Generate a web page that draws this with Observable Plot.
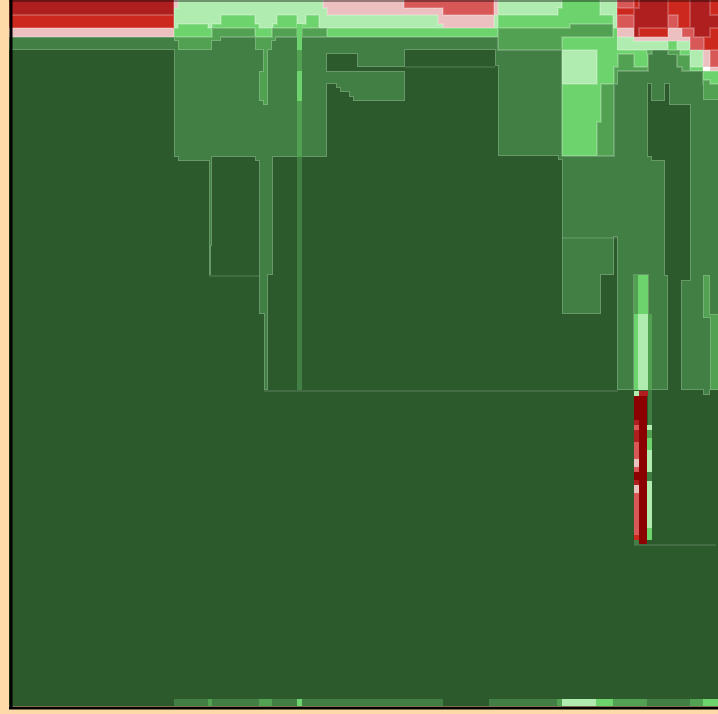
<!DOCTYPE html>
<html><head><meta charset="utf-8">
<style>html,body{margin:0;padding:0;background:#fedaa8}svg{display:block}</style>
<script src="https://cdn.jsdelivr.net/npm/d3@7"></script>
<script src="https://cdn.jsdelivr.net/npm/@observablehq/plot@0.6"></script>
</head><body><script>
// Each cell: [x1, y1, x2, y2] in chart units, grouped by colour class
const base = [[12,1,718,706]];
const g1 = [[12,37,174,50],[174,37,327,157],[327,37,498,50],[327,50,405,54],[357,54,405,67],[327,71,405,84],[336,84,405,88],[340,88,405,92],[349,92,405,97],[353,97,405,101],
[495,50,498,66],[498,50,562,156],[558,156,562,160],[178,157,212,161],[209,161,212,246],[209,246,211,275],[255,157,273,161],[259,161,273,275],[259,275,268,314],[264,314,268,390],
[562,156,652,237],[652,160,665,237],[562,237,601,314],[601,237,614,275],[617,237,665,275],[617,275,634,390],[648,275,668,390],
[614,84,648,156],[651,84,665,101],[669,84,690,105],[617,71,703,84],[648,54,677,71],[677,67,682,71],[652,50,668,55],[690,84,718,280],[681,280,718,390],[703,390,710,395]];
const g2 = [[174,37,178,41],[178,37,212,50],[212,28,255,37],[212,37,221,41],[272,28,297,37],[272,37,276,41],[255,37,272,50],[302,28,327,37],[263,50,268,71],[259,71,268,101],[263,101,268,105],
[498,28,562,50],[562,28,613,37],[570,24,613,28],[601,84,614,122],[597,122,614,156],[614,67,618,84],[618,54,634,67],[614,67,648,71],[647,50,652,54],[668,50,680,55],[677,55,690,67],[682,67,690,71],[703,80,710,84],[703,84,718,100],[703,275,710,318],[710,314,718,390]];
const g3 = [[174,28,178,37],[178,24,208,37],[208,28,212,37],[212,24,221,28],[221,15,255,28],[255,24,259,28],[273,24,277,28],[255,28,272,37],[277,15,297,28],[302,24,319,28],[306,15,319,24],
[327,28,498,37],[562,1,600,15],[558,8,562,15],[498,15,570,28],[570,15,613,24],[562,37,597,50],[597,37,614,84],[613,28,618,67],[562,84,601,122],[562,122,597,156],
[617,50,647,54],[634,54,648,67],[680,50,690,55],[668,41,677,50],[690,67,703,71],[703,71,710,80],[710,71,718,84]];
const g4 = [[178,1,323,15],[323,8,327,15],[174,8,178,28],[178,15,221,24],[208,24,212,28],[255,15,277,24],[259,24,273,28],[297,15,306,24],[319,15,438,24],[319,24,443,28],
[494,15,498,28],[498,1,562,8],[498,8,558,15],[600,1,617,15],[613,15,617,28],[562,50,597,84],[617,37,634,50],[617,41,668,50],[677,41,690,50],[690,50,703,67]];
const p0 = [[12,28,174,37],[174,1,178,8],[323,1,404,8],[327,8,443,15],[438,15,494,24],[443,24,494,28],[494,1,498,15],[617,28,634,37],[634,37,668,41],[668,28,682,37],[668,37,690,41],[703,50,710,67],[710,67,718,71]];
const r1 = [[404,1,494,8],[443,8,494,15],[617,1,634,8],[617,15,634,28],[668,15,678,28],[682,28,694,37],[690,37,704,50],[710,50,718,67]];
const r2 = [[12,15,174,28],[617,8,634,15],[634,1,639,8],[639,28,668,37],[668,1,678,15],[678,1,690,28],[710,1,718,15],[710,28,718,50],[704,37,710,50]];
const r3 = [[12,1,174,15],[639,1,668,28],[634,8,639,37],[690,1,710,28],[694,28,710,37],[710,15,718,28]];
const w0 = [[703,67,710,71]];

// Cells drawn flat, without a light edge: [x1, y1, x2, y2, class]
const flatCells = [
  [297,24,302,50,"g3"],[297,50,302,71,"g2"],[297,71,302,101,"g3"],[297,101,302,157,"g2"],[297,157,302,390,"g1"],
  [174,699,443,706,"g1"],[489,699,557,706,"g1"],[647,699,690,706,"g1"],
  [208,699,212,706,"g2"],[259,699,272,706,"g2"],[557,699,562,706,"g2"],[613,699,647,706,"g2"],[690,699,703,706,"g2"],
  [297,699,302,706,"g3"],[596,699,613,706,"g3"],[703,699,718,706,"g3"],[562,699,596,706,"g4"],
  [634,275,638,314,"g2"],[638,275,648,314,"g3"],[634,314,638,390,"g3"],[638,314,648,390,"g4"],[648,314,652,390,"g2"],
  [634,391,639,396,"g4"],[639,391,648,396,"r3"],
  [648,390,652,425,"g1"],[647,425,652,430,"g4"],[647,430,652,438,"g2"],[647,438,652,450,"g3"],[647,450,652,472,"g4"],[647,472,652,481,"g1"],[647,481,652,528,"g4"],[647,528,652,540,"g3"],
  [634,396,639,420,"r4"],[634,420,639,425,"r3"],[634,425,639,430,"r1"],[634,430,639,442,"r3"],[634,442,639,459,"r1"],[634,459,639,467,"p0"],[634,467,639,472,"r1"],[634,472,639,480,"r4"],[634,480,639,485,"r3"],[634,485,639,493,"p0"],[634,493,639,535,"r1"],[634,535,639,540,"r2"],[634,540,639,545,"g1"],
  [639,396,647,544,"r4"]
];
// Faint cell edges: [y, x1, x2]
const edges = [[275.5,209,259],[390.5,264,618],[66.5,405,495],[544.5,634,716],[237.5,562,617]];

const levelNames = ["base","g1","g2","g3","g4","p0","r1","r2","r3","r4","w0"];
const levelCells = [base,g1,g2,g3,g4,p0,r1,r2,r3,[],w0];
const levelColors = ["#2d5a2d","#417f44","#52a052","#6dd36d","#b0ecb0","#ecc0c0","#d85858","#cc281e","#af1f1f","#8b0000","#ffffff"];
const edgeLight = 0.2;

// Cells on the plot's outer boundary run past it so no edge shows there
const bleed = c => [c[0] === 12 ? 9 : c[0], c[1] === 1 ? -3 : c[1], c[2] === 718 ? 722 : c[2], c[3]];
const table = cells => cells.map(bleed).map(c => ({x1:c[0], y1:c[1], x2:c[2], y2:c[3]}));
const channels = {x1:"x1", x2:"x2", y1:"y1", y2:"y2"};
const marks = [];

// filter that shrinks a layer's union by one pixel, leaving the lighter rim visible
marks.push(() => {
  const s = d3.create("svg:defs");
  const f = s.append("filter").attr("id","shrink")
    .attr("color-interpolation-filters","sRGB").attr("filterUnits","userSpaceOnUse")
    .attr("x",-20).attr("y",-20).attr("width",760).attr("height",760);
  f.append("feMorphology").attr("operator","erode").attr("radius",1);
  return s.node();
});

levelNames.forEach((name,i) => {
  if (!levelCells[i].length) return;
  const rows = table(levelCells[i]);
  if (i === 0) { marks.push(Plot.rect(rows, {...channels, fill:levelColors[0]})); return; }
  marks.push(Plot.rect(rows, {...channels, fill:d3.interpolateRgb(levelColors[i],"#fff")(edgeLight)}));
  marks.push(Plot.rect(rows, {...channels, fill:levelColors[i], imageFilter:"url(#shrink)"}));
  if (i === 1) marks.push(Plot.ruleY(edges, {y:d=>d[0], x1:d=>d[1], x2:d=>d[2], stroke:"#fff", strokeOpacity:0.22, strokeWidth:1}));
});
marks.push(Plot.rect(flatCells, {x1:d=>d[0], y1:d=>d[1], x2:d=>d[2], y2:d=>d[3], fill:d=>d[4]}));

// axis lines
marks.push(Plot.ruleX([10.5], {y1:0, y2:709, stroke:"#000", strokeWidth:3}));
marks.push(Plot.ruleY([707.5], {x1:9, x2:718, stroke:"#000", strokeWidth:3}));
marks.push(Plot.ruleY([0.5], {x1:9, x2:718, stroke:"#000", strokeOpacity:0.75, strokeWidth:1}));

const chart = Plot.plot({
  width:718, height:714, margin:0,
  x:{domain:[0,718], range:[0,718], axis:null},
  y:{domain:[0,714], range:[0,714], axis:null},
  color:{type:"ordinal", domain:levelNames, range:levelColors},
  style:{background:"#fedaa8"},
  marks
});
document.body.appendChild(chart);
</script></body></html>
